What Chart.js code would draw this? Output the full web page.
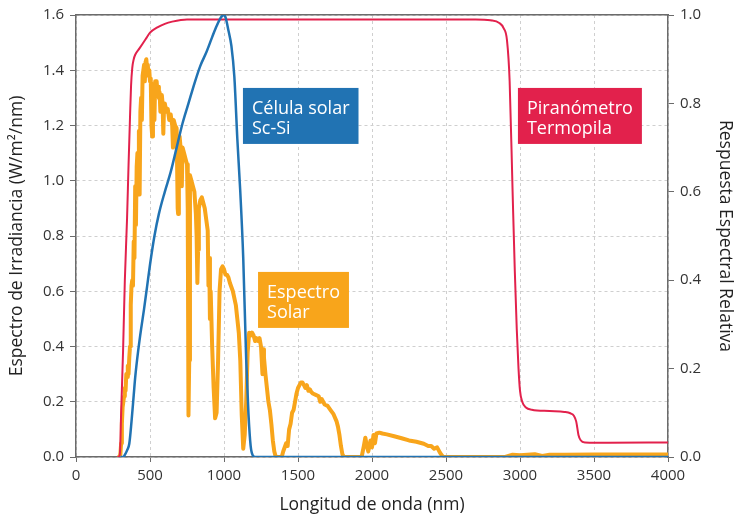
<!DOCTYPE html>
<html>
<head>
<meta charset="utf-8">
<script src="https://cdn.jsdelivr.net/npm/chart.js@4.4.1/dist/chart.umd.min.js"></script>
<style>
  html, body { margin: 0; padding: 0; background: #fff; }
</style>
</head>
<body>
<canvas id="chart" width="735" height="521"></canvas>
<script>
// Espectro solar (W/m²/nm), eje izquierdo
const solarNm = [
    280, 295, 300, 305, 310, 315, 320, 325, 330, 335,
    340, 345, 350, 355, 360, 365, 370, 375, 380, 385,
    390, 395, 400, 405, 410, 415, 420, 425, 430, 435,
    440, 445, 450, 455, 460, 465, 470, 475, 480, 485,
    490, 495, 500, 505, 510, 515, 520, 525, 530, 535,
    540, 545, 550, 555, 560, 565, 570, 575, 580, 585,
    590, 595, 600, 610, 620, 630, 640, 650, 655, 660,
    670, 680, 687, 690, 695, 700, 710, 715, 720, 730,
    740, 750, 755, 760, 765, 770, 780, 790, 800, 810,
    815, 820, 825, 830, 840, 850, 860, 870, 880, 890,
    895, 900, 905, 910, 920, 930, 940, 950, 960, 970,
    980, 990, 1000, 1010, 1020, 1030, 1040, 1060, 1080, 1090,
    1100, 1110, 1120, 1130, 1140, 1150, 1160, 1170, 1180, 1190,
    1200, 1210, 1220, 1230, 1240, 1250, 1260, 1265, 1270, 1280,
    1290, 1300, 1310, 1320, 1330, 1340, 1350, 1390, 1400, 1420,
    1430, 1440, 1450, 1460, 1470, 1480, 1490, 1500, 1510, 1520,
    1530, 1540, 1550, 1560, 1570, 1580, 1590, 1600, 1620, 1640,
    1650, 1660, 1680, 1700, 1720, 1740, 1760, 1770, 1780, 1790,
    1800, 1810, 1930, 1945, 1955, 1965, 1975, 1990, 2000, 2010,
    2020, 2030, 2050, 2070, 2100, 2150, 2200, 2250, 2300, 2350,
    2380, 2400, 2420, 2440, 2460, 2480, 2900, 2950, 3000, 3100,
    3150, 3200, 3300, 3500, 4000
];
const solarIrr = [
    0, 0, 0.01, 0.05, 0.12, 0.18, 0.2, 0.22, 0.25, 0.24,
    0.3, 0.29, 0.33, 0.3, 0.36, 0.4, 0.55, 0.62, 0.64, 0.62,
    0.78, 0.72, 0.98, 0.84, 1.05, 1.1, 1.02, 1.18, 0.95, 1.25,
    1.3, 1.22, 1.38, 1.4, 1.42, 1.36, 1.43, 1.44, 1.41, 1.42,
    1.38, 1.4, 1.36, 1.37, 1.2, 1.16, 1.3, 1.35, 1.22, 1.36,
    1.33, 1.36, 1.32, 1.34, 1.3, 1.32, 1.25, 1.3, 1.31, 1.28,
    1.17, 1.27, 1.28, 1.25, 1.26, 1.22, 1.24, 1.2, 1.12, 1.22,
    1.2, 1.19, 0.9, 0.88, 1.12, 1.16, 1.1, 0.98, 1.12, 1.1,
    1.08, 1.06, 0.9, 0.15, 0.35, 1.02, 1.0, 0.98, 0.96, 0.88,
    0.8, 0.63, 0.75, 0.9, 0.93, 0.94, 0.92, 0.9, 0.86, 0.82,
    0.62, 0.72, 0.5, 0.6, 0.4, 0.25, 0.14, 0.16, 0.35, 0.6,
    0.68, 0.69, 0.68, 0.66, 0.66, 0.65, 0.63, 0.6, 0.55, 0.5,
    0.45, 0.35, 0.15, 0.03, 0.08, 0.2, 0.38, 0.45, 0.44, 0.45,
    0.44, 0.42, 0.43, 0.42, 0.43, 0.4, 0.3, 0.39, 0.36, 0.3,
    0.25, 0.2, 0.17, 0.12, 0.06, 0.02, 0, 0, 0.02, 0.05,
    0.04, 0.1, 0.12, 0.16, 0.17, 0.2, 0.23, 0.25, 0.26, 0.27,
    0.27, 0.26, 0.25, 0.26, 0.24, 0.245, 0.235, 0.23, 0.225, 0.22,
    0.2, 0.21, 0.19, 0.185, 0.17, 0.155, 0.13, 0.11, 0.08, 0.04,
    0.01, 0, 0, 0.04, 0.07, 0.04, 0.02, 0.06, 0.035, 0.08,
    0.05, 0.085, 0.088, 0.085, 0.082, 0.075, 0.068, 0.06, 0.055, 0.048,
    0.04, 0.04, 0.03, 0.035, 0.015, 0, 0, 0.008, 0.006, 0.01,
    0.004, 0.008, 0.008, 0.009, 0.009
];

// Célula solar Sc-Si (respuesta relativa), eje derecho
const cellNm = [
    300, 320, 330, 345, 360, 375, 390, 400, 420, 440,
    460, 480, 500, 530, 560, 600, 640, 680, 720, 760,
    800, 840, 880, 920, 950, 980, 1000, 1010, 1030, 1050,
    1070, 1090, 1110, 1130, 1150, 1165, 1180, 1195, 1210, 4000
];
const cellResp = [
    0, 0, 0.005, 0.015, 0.03, 0.08, 0.14, 0.18, 0.24, 0.29,
    0.335, 0.385, 0.435, 0.5, 0.55, 0.6, 0.645, 0.7, 0.755, 0.8,
    0.845, 0.885, 0.915, 0.95, 0.975, 0.995, 1.0, 0.995, 0.965, 0.93,
    0.86, 0.72, 0.6, 0.45, 0.22, 0.1, 0.025, 0.003, 0, 0
];

// Piranómetro termopila (respuesta relativa), eje derecho
const pyraNm = [
    280, 290, 297, 305, 318, 330, 345, 355, 365, 372,
    380, 390, 400, 430, 470, 500, 550, 600, 650, 750,
    2700, 2800, 2860, 2890, 2912, 2930, 2950, 2965, 2978, 2990,
    3000, 3015, 3040, 3080, 3200, 3300, 3340, 3365, 3380, 3395,
    3410, 3440, 3600, 4000
];
const pyraResp = [
    0, 0, 0.01, 0.1, 0.24, 0.4, 0.54, 0.66, 0.77, 0.84,
    0.88, 0.9, 0.91, 0.925, 0.945, 0.96, 0.972, 0.98, 0.985, 0.99,
    0.99, 0.988, 0.982, 0.97, 0.943, 0.85, 0.6, 0.42, 0.29, 0.2,
    0.15, 0.125, 0.112, 0.107, 0.104, 0.102, 0.099, 0.093, 0.08, 0.05,
    0.038, 0.033, 0.032, 0.033
];

const xTicks = [0, 500, 1000, 1500, 2000, 2500, 3000, 3500, 4000];
const leftTicks = [0, 0.2, 0.4, 0.6, 0.8, 1.0, 1.2, 1.4, 1.6];
const rightTicks = [0, 0.2, 0.4, 0.6, 0.8, 1.0];

const SOLAR = '#f8a51b';
const CELL = '#2173b3';
const PYRA = '#e2214c';
const AXIS = '#6b6b6b';
const FONT = '"Open Sans", "Noto Sans", sans-serif';

// recuadros de texto, anclados en coordenadas de datos (nm, eje izquierdo)
const notes = [
    { lines: ['Célula solar', 'Sc-Si'], color: CELL, at: [1128, 1.336] },
    { lines: ['Piranómetro', 'Termopila'], color: PYRA, at: [2986, 1.336] },
    { lines: ['Espectro', 'Solar'], color: SOLAR, at: [1230, 0.67] },
];

const toPoints = (xs, ys) => xs.map((x, i) => ({ x, y: ys[i] }));
const fixTicks = (list) => (scale) => { scale.ticks = list.map((v) => ({ value: v })); };

const noteBoxes = {
    id: 'noteBoxes',
    afterDatasetsDraw(chart) {
        const { ctx, scales: { x, y } } = chart;
        ctx.save();
        ctx.font = '18px ' + FONT;
        notes.forEach((n) => {
            const left = x.getPixelForValue(n.at[0]);
            const top = y.getPixelForValue(n.at[1]);
            const w = Math.max(...n.lines.map((l) => ctx.measureText(l).width)) + 18;
            ctx.fillStyle = n.color;
            ctx.fillRect(left, top, w, 56);
            ctx.fillStyle = '#fff';
            n.lines.forEach((l, i) => ctx.fillText(l, left + 9, top + 26 + i * 20));
        });
        ctx.restore();
    },
};

const tickFont = { family: FONT, size: 15 };
const titleFont = { family: FONT, size: 17.5 };

new Chart(document.getElementById('chart'), {
    type: 'line',
    data: {
        datasets: [
            {
                label: 'Célula solar Sc-Si',
                data: toPoints(cellNm, cellResp),
                yAxisID: 'y1',
                borderColor: CELL,
                borderWidth: 2.5,
                cubicInterpolationMode: 'monotone',
                order: 0,
            },
            {
                label: 'Piranómetro Termopila',
                data: toPoints(pyraNm, pyraResp),
                yAxisID: 'y1',
                borderColor: PYRA,
                borderWidth: 2,
                cubicInterpolationMode: 'monotone',
                order: 1,
            },
            {
                label: 'Espectro Solar',
                data: toPoints(solarNm, solarIrr),
                yAxisID: 'y',
                borderColor: SOLAR,
                borderWidth: 4,
                borderJoinStyle: 'round',
                tension: 0,
                order: 2,
            },
        ],
    },
    options: {
        responsive: false,
        animation: false,
        parsing: false,
        elements: { point: { radius: 0 } },
        layout: { padding: 0 },
        plugins: { legend: { display: false }, tooltip: { enabled: false } },
        scales: {
            x: {
                type: 'linear',
                position: 'bottom',
                min: 0, max: 4000,
                afterBuildTicks: fixTicks(xTicks),
                afterFit: (s) => { s.height = 64; },
                grid: { color: '#cfcfcf', tickColor: AXIS, tickLength: 5 },
                border: { color: AXIS, width: 1.5, dash: [3, 3] },
                ticks: { font: tickFont, color: '#333', padding: 5, maxRotation: 0, callback: (v) => String(v) },
                title: { display: true, text: 'Longitud de onda (nm)', font: titleFont, color: '#222', padding: { top: 0, bottom: 5 } },
            },
            xTop: {
                type: 'linear',
                position: 'top',
                min: 0, max: 4000,
                afterFit: (s) => { s.height = 15; },
                grid: { display: false },
                border: { color: AXIS, width: 1.5 },
                ticks: { display: false },
            },
            y: {
                type: 'linear',
                position: 'left',
                min: 0, max: 1.6,
                afterBuildTicks: fixTicks(leftTicks),
                afterFit: (s) => { s.width = 76; },
                grid: { color: '#cfcfcf', tickColor: AXIS, tickLength: 6 },
                border: { color: AXIS, width: 1.5, dash: [3, 3] },
                ticks: { font: tickFont, color: '#333', padding: 6, callback: (v) => v.toFixed(1) },
                title: { display: true, text: 'Espectro de Irradiancia (W/m²/nm)', font: titleFont, color: '#222', padding: { top: 7, bottom: 0 } },
            },
            y1: {
                type: 'linear',
                position: 'right',
                min: 0, max: 1.0,
                afterBuildTicks: fixTicks(rightTicks),
                afterFit: (s) => { s.width = 67; },
                grid: { drawOnChartArea: false, tickColor: AXIS, tickLength: 6 },
                border: { color: AXIS, width: 1.5 },
                ticks: { font: tickFont, color: '#333', padding: 6, callback: (v) => v.toFixed(1) },
                title: { display: true, text: 'Respuesta Espectral Relativa', font: titleFont, color: '#222', padding: { top: 0, bottom: 0 } },
            },
        },
    },
    plugins: [noteBoxes],
});
</script>
</body>
</html>
